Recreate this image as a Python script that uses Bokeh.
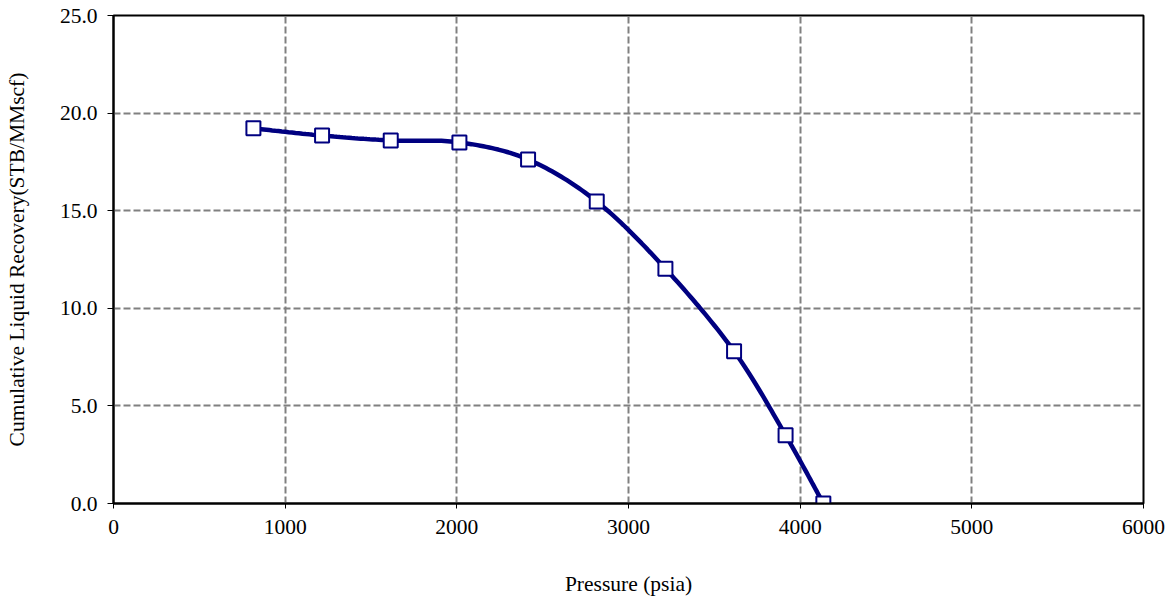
import numpy as np
from bokeh.plotting import figure
from bokeh.models import Range1d, FixedTicker, PrintfTickFormatter
from bokeh.embed import file_html
from bokeh.resources import INLINE

pressure = [815, 1215, 1615, 2015, 2415, 2815, 3215, 3615, 3915, 4135]
recovery = [19.22, 18.85, 18.6, 18.5, 17.62, 15.47, 12.03, 7.8, 3.5, 0.0]
x_ticks = [0, 1000, 2000, 3000, 4000, 5000, 6000]
y_ticks = [0, 5, 10, 15, 20, 25]
x_title = "Pressure (psia)"
y_title = "Cumulative Liquid Recovery(STB/MMscf)"


def smooth(xs, ys, n=24):
    pts = np.column_stack([xs, ys]).astype(float)
    P = np.vstack([pts[0], pts, pts[-1]])
    out = []
    t = np.linspace(0, 1, n)[:, None]
    for i in range(1, len(P) - 2):
        p0, p1, p2, p3 = P[i - 1], P[i], P[i + 1], P[i + 2]
        c1 = p1 + (p2 - p0) / 6.0
        c2 = p2 - (p3 - p1) / 6.0
        seg = (1 - t) ** 3 * p1 + 3 * (1 - t) ** 2 * t * c1 + 3 * (1 - t) * t ** 2 * c2 + t ** 3 * p2
        out.append(seg if i == 1 else seg[1:])
    s = np.vstack(out)
    return s[:, 0], s[:, 1]


FONT = "Liberation Serif"
FS = "21.5px"

p = figure(width=1173, height=606, output_backend="svg", toolbar_location=None,
           x_range=Range1d(0, 6000), y_range=Range1d(0, 25),
           min_border_left=113, min_border_right=30, min_border_top=15, min_border_bottom=103)

p.outline_line_color = "black"
p.outline_line_width = 2

for g in (p.xgrid[0], p.ygrid[0]):
    g.grid_line_color = "#808080"
    g.grid_line_dash = "7 3"
    g.grid_line_width = 2

p.xaxis.ticker = FixedTicker(ticks=x_ticks)
p.yaxis.ticker = FixedTicker(ticks=y_ticks)
p.xgrid[0].ticker = FixedTicker(ticks=x_ticks)
p.ygrid[0].ticker = FixedTicker(ticks=y_ticks)
p.yaxis.formatter = PrintfTickFormatter(format="%.1f")

for ax in (p.xaxis[0], p.yaxis[0]):
    ax.axis_line_color = "black"
    ax.axis_line_width = 2
    ax.major_tick_line_color = "black"
    ax.major_tick_line_width = 1
    ax.major_tick_in = 0
    ax.minor_tick_line_color = None
    ax.major_label_text_font = FONT
    ax.major_label_text_font_size = FS
    ax.major_label_text_color = "black"
    ax.axis_label_text_font = FONT
    ax.axis_label_text_font_size = FS
    ax.axis_label_text_font_style = "normal"
    ax.axis_label_text_color = "black"

p.xaxis.axis_label = x_title
p.yaxis.axis_label = y_title
p.xaxis.major_tick_out = 5
p.yaxis.major_tick_out = 6
p.xaxis.major_label_standoff = 11
p.yaxis.major_label_standoff = 10
p.xaxis.axis_label_standoff = 35
p.yaxis.axis_label_standoff = 28

sx, sy = smooth(pressure, recovery)
p.line(sx, sy, line_color="#000080", line_width=4.5)
p.scatter(pressure, recovery, marker="square", size=14, fill_color="white",
          line_color="#000080", line_width=2)

open("out.html", "w").write(file_html(p, INLINE))
